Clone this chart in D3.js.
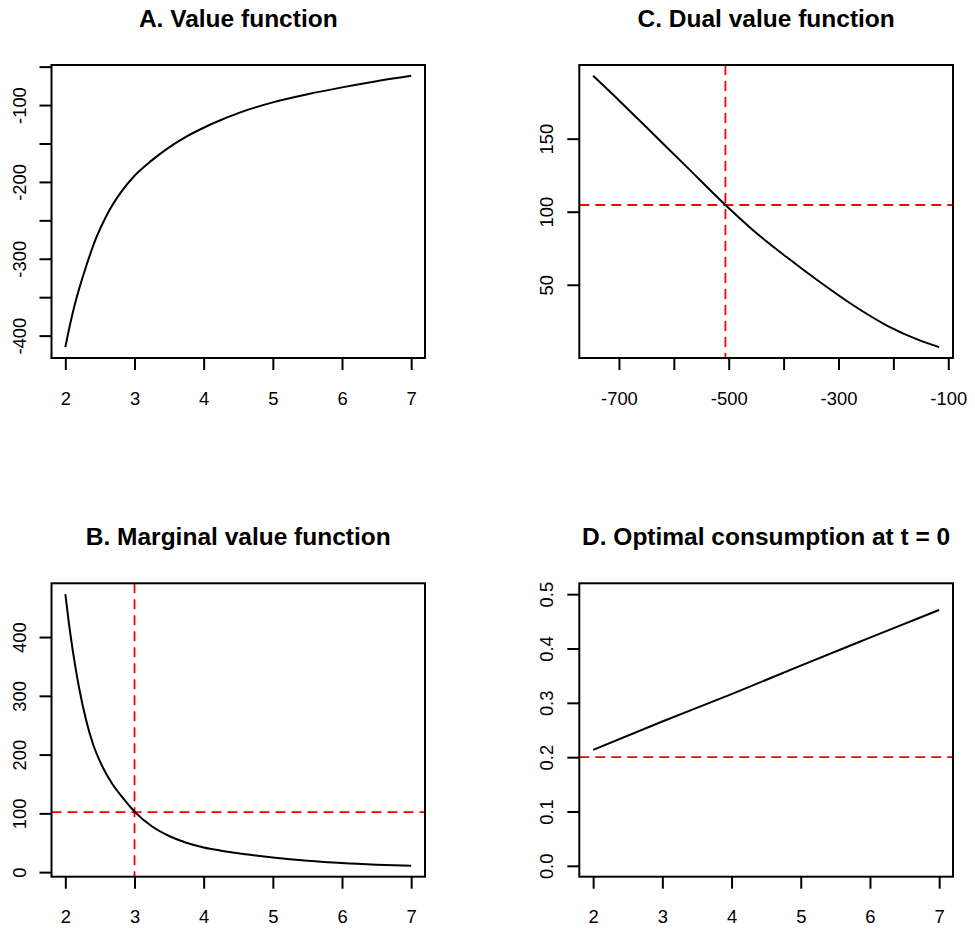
<!DOCTYPE html>
<html>
<head>
<meta charset="utf-8">
<script src="https://cdn.jsdelivr.net/npm/d3@7"></script>
<style>
  body { margin: 0; background: #fff; }
  text { font-family: "Liberation Sans", Arial, Helvetica, sans-serif; fill: #000; }
</style>
</head>
<body>
<svg id="chart" width="975" height="931"></svg>
<script>
// A. Value function V(x) over wealth x
const valueX = [2.0, 2.05, 2.1, 2.15, 2.2, 2.3, 2.45, 2.6, 2.8, 3.0, 3.25, 3.5, 3.75, 4.0, 4.25, 4.5, 4.75, 5.0, 5.5, 6.0, 6.5, 7.0];
const valueY = [-415, -393, -373, -355, -339, -310, -272, -243, -214, -192, -172, -155, -141, -129.5, -119.5, -110.5, -103, -96.5, -86, -77, -69, -62];

// B. Marginal value function V'(x)
const margX = [2.0, 2.05, 2.1, 2.15, 2.2, 2.3, 2.4, 2.53, 2.68, 2.82, 3.0, 3.25, 3.5, 3.75, 4.0, 4.25, 4.5, 4.75, 5.0, 5.5, 6.0, 6.5, 7.0];
const margY = [473, 425, 383, 346, 313, 259, 218, 181, 150, 128, 103, 78, 61.5, 50, 42, 36.5, 32, 28.3, 25, 19.5, 15.5, 12.7, 10.7];

// C. Dual value function
const dualX = [-747, -698, -637, -576, -515.5, -454.6, -394, -333.3, -272.5, -211.8, -151, -116.6];
const dualY = [193, 175.5, 153, 130.5, 108, 87, 68.8, 51.7, 35.8, 22.1, 11.8, 7.3];

// D. Optimal consumption at t = 0
const consX = [2, 3, 4, 5, 6, 7];
const consY = [0.2135, 0.2656, 0.316, 0.3686, 0.420, 0.471];
const consLimits = [0, 0.5];

// Reference levels (dashed red)
const margRefX = 3, margRefY = 102;
const dualRefX = -506, dualRefY = 104.6;
const consRefY = 0.2;

// Ticks and their labels ("" = tick without label)
const wealthTicks = [2, 3, 4, 5, 6, 7];
const wealthLabels = ["2", "3", "4", "5", "6", "7"];
const valueTicks = [-400, -350, -300, -250, -200, -150, -100, -50];
const valueLabels = ["-400", "", "-300", "", "-200", "", "-100", ""];
const margTicks = [0, 100, 200, 300, 400];
const margLabels = ["0", "100", "200", "300", "400"];
const dualXTicks = [-700, -600, -500, -400, -300, -200, -100];
const dualXLabels = ["-700", "", "-500", "", "-300", "", "-100"];
const dualYTicks = [50, 100, 150];
const dualYLabels = ["50", "100", "150"];
const consTicks = [0, 0.1, 0.2, 0.3, 0.4, 0.5];
const consLabels = ["0.0", "0.1", "0.2", "0.3", "0.4", "0.5"];

const svg = d3.select("#chart");
svg.append("rect").attr("width", 975).attr("height", 931).attr("fill", "#fff");

// Axis range extended by 4% on each side
function padded(ext) {
  const d = (ext[1] - ext[0]) * 0.04;
  return [ext[0] - d, ext[1] + d];
}

const leftCol = [51.5, 425], rightCol = [579.3, 953];
const topRow = [65, 358], bottomRow = [583.3, 876.7];

const panels = [
  { title: "A. Value function", cols: leftCol, rows: topRow,
    xs: valueX, ys: valueY, xTicks: wealthTicks, xLabels: wealthLabels,
    yTicks: valueTicks, yLabels: valueLabels, vRefs: [], hRefs: [] },
  { title: "C. Dual value function", cols: rightCol, rows: topRow,
    xs: dualX, ys: dualY, xTicks: dualXTicks, xLabels: dualXLabels,
    yTicks: dualYTicks, yLabels: dualYLabels, vRefs: [dualRefX], hRefs: [dualRefY] },
  { title: "B. Marginal value function", cols: leftCol, rows: bottomRow,
    xs: margX, ys: margY, xTicks: wealthTicks, xLabels: wealthLabels,
    yTicks: margTicks, yLabels: margLabels, vRefs: [margRefX], hRefs: [margRefY] },
  { title: "D. Optimal consumption at t = 0", cols: rightCol, rows: bottomRow,
    xs: consX, ys: consY, yLimits: consLimits, xTicks: wealthTicks, xLabels: wealthLabels,
    yTicks: consTicks, yLabels: consLabels, vRefs: [], hRefs: [consRefY] }
];

panels.forEach(p => {
  const [x0, x1] = p.cols, [y0, y1] = p.rows;
  const x = d3.scaleLinear().domain(padded(d3.extent(p.xs))).range([x0, x1]);
  const y = d3.scaleLinear().domain(padded(p.yLimits || d3.extent(p.ys))).range([y1, y0]);
  const g = svg.append("g");

  const clipId = "clip" + Math.round(x0) + "_" + Math.round(y0);
  g.append("clipPath").attr("id", clipId)
    .append("rect").attr("x", x0).attr("y", y0).attr("width", x1 - x0).attr("height", y1 - y0);

  // reference lines
  const refs = g.append("g").attr("clip-path", `url(#${clipId})`)
    .attr("stroke", "#ff0000").attr("stroke-width", 1.8).attr("stroke-dasharray", "10,6");
  p.hRefs.forEach(v => refs.append("line")
    .attr("x1", x0).attr("x2", x1).attr("y1", y(v)).attr("y2", y(v)));
  p.vRefs.forEach(v => refs.append("line")
    .attr("x1", x(v)).attr("x2", x(v)).attr("y1", y0).attr("y2", y1));

  // curve
  const line = d3.line().x((d, i) => x(p.xs[i])).y((d, i) => y(p.ys[i])).curve(d3.curveMonotoneX);
  g.append("path").datum(p.xs).attr("d", line)
    .attr("fill", "none").attr("stroke", "#000").attr("stroke-width", 2);

  // x axis
  const xa = g.append("g").attr("transform", `translate(0,${y1})`)
    .call(d3.axisBottom(x).tickValues(p.xTicks).tickSize(12).tickSizeOuter(0).tickPadding(21.5)
      .tickFormat((d, i) => p.xLabels[i]));
  xa.select(".domain").remove();
  xa.selectAll("line").attr("stroke", "#000").attr("stroke-width", 2);
  xa.selectAll("text").attr("font-size", 18.4).attr("font-family", null).attr("fill", "#000");

  // y axis, labels rotated
  const ya = g.append("g").attr("transform", `translate(${x0},0)`)
    .call(d3.axisLeft(y).tickValues(p.yTicks).tickSize(12).tickSizeOuter(0)
      .tickFormat((d, i) => p.yLabels[i]));
  ya.select(".domain").remove();
  ya.selectAll("line").attr("stroke", "#000").attr("stroke-width", 2);
  ya.selectAll("text").attr("x", null).attr("dy", null)
    .attr("transform", "translate(-26,0) rotate(-90)")
    .attr("text-anchor", "middle").attr("font-size", 18.4).attr("font-family", null).attr("fill", "#000");

  // box
  g.append("rect").attr("x", x0).attr("y", y0).attr("width", x1 - x0).attr("height", y1 - y0)
    .attr("fill", "none").attr("stroke", "#000").attr("stroke-width", 2);

  // title
  g.append("text").attr("x", (x0 + x1) / 2).attr("y", y0 - 38.5)
    .attr("text-anchor", "middle").attr("font-weight", "bold").attr("font-size", 24.5)
    .text(p.title);
});
</script>
</body>
</html>
